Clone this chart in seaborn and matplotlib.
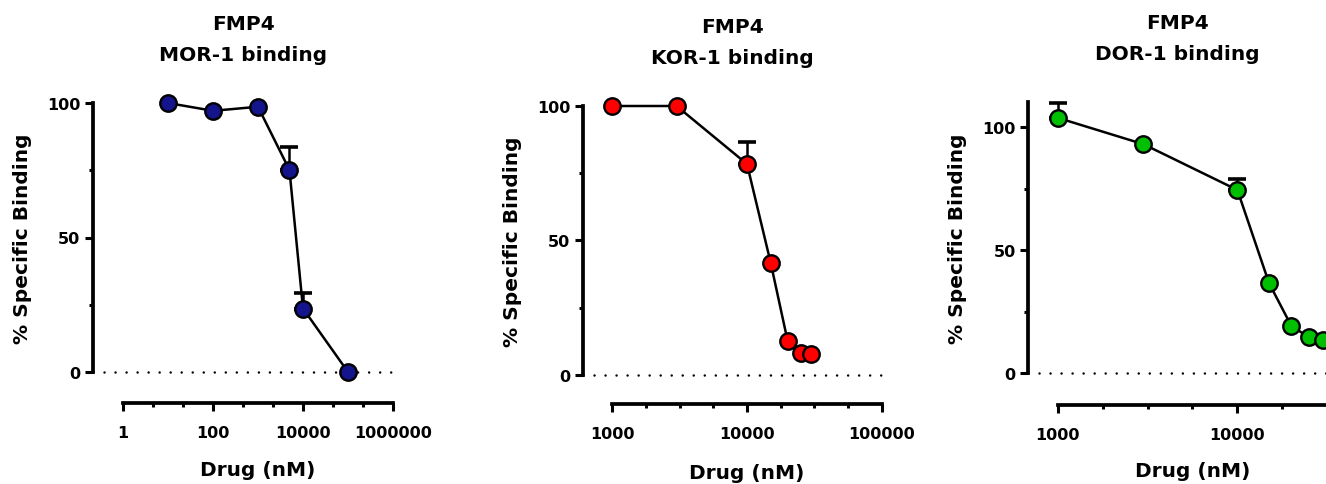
import numpy as np
import pandas as pd
import matplotlib
matplotlib.use("Agg")
import matplotlib.pyplot as plt
import seaborn as sns
from matplotlib.ticker import FixedLocator, FixedFormatter, NullFormatter

# ---------------- data ----------------
mor_conc = [10, 100, 1000, 5000, 10000, 100000]
mor_binding = [100.0, 97.1, 98.6, 75.1, 23.6, 0.0]
mor_err = [0, 0, 0, 8.6, 5.9, 0]

kor_conc = [1000, 3000, 10000, 15000, 20000, 25000, 30000]
kor_binding = [100.0, 100.0, 78.4, 41.6, 12.7, 8.1, 7.7]
kor_err = [0, 0, 8.3, 0, 0, 0, 0]

dor_conc = [1000, 3000, 10000, 15000, 20000, 25000, 30000]
dor_binding = [103.7, 93.0, 74.4, 36.6, 19.1, 14.7, 13.4]
dor_err = [6.0, 0, 4.5, 0, 0, 0, 0]

titles = ["FMP4\nMOR-1 binding", "FMP4\nKOR-1 binding", "FMP4\nDOR-1 binding"]
mor_xticklabels = ["1", "100", "10000", "1000000"]
kor_xticklabels = ["1000", "10000", "100000"]
dor_xticklabels = ["1000", "10000"]
yticklabels = ["0", "50", "100"]
xlabel = "Drug (nM)"
ylabel = "% Specific Binding"

colors = ["#14148C", "#FF0000", "#00BE00"]

# ---------------- style ----------------
sns.set_style("ticks")
plt.rcParams["font.family"] = ["DejaVu Sans"]
plt.rcParams["font.weight"] = "bold"
plt.rcParams["text.color"] = "black"
plt.rcParams["axes.labelcolor"] = "black"
plt.rcParams["axes.edgecolor"] = "black"
plt.rcParams["xtick.color"] = "black"
plt.rcParams["ytick.color"] = "black"
plt.rcParams["xtick.labelcolor"] = "black"
plt.rcParams["ytick.labelcolor"] = "black"

W, H = 1326, 485
fig = plt.figure(figsize=(W / 100, H / 100), dpi=100)

PX2PT = 0.72

# layout per panel: (left_px, xstart_px, px_per_decade, logstart, logend, top_px, bottom_px, ymax, xaxis offset px)
layouts = [
    (93.0, 123.0, 45.0, 0.0, 6.0, 104.0, 373.0, 100, 31.0),
    (582.7, 612.3, 134.7, 3.0, 5.0, 107.0, 375.7, 100, 29.3),
    (1028.3, 1057.7, 179.7, 3.0, 4.5, 103.3, 374.3, 110, 31.7),
]

# (conc, binding, err, tick labels, major tick values, tick intervals per decade)
panels = [
    (mor_conc, mor_binding, mor_err, mor_xticklabels, [1, 100, 1e4, 1e6], 1.5),
    (kor_conc, kor_binding, kor_err, kor_xticklabels, [1e3, 1e4, 1e5], 4),
    (dor_conc, dor_binding, dor_err, dor_xticklabels, [1e3, 1e4], 4),
]

for i, ((conc, binding, err, xtl, majors, nsub), lay, title, col) in enumerate(
        zip(panels, layouts, titles, colors)):
    left, xstart, ppd, l0, l1, top, bottom, ymax, xoff = lay
    right = xstart + (l1 - l0) * ppd
    wpx = right - left
    hpx = bottom - top
    ax = fig.add_axes([left / W, 1 - bottom / H, wpx / W, hpx / H])

    df = pd.DataFrame({"conc": conc, "binding": binding, "err": err})

    ax.set_xscale("log")
    xlo = 10 ** (l0 - (xstart - left) / ppd)
    ax.set_xlim(xlo, 10 ** l1)
    ax.set_ylim(0, ymax)

    # dotted baseline
    ax.axhline(0, color="black", lw=1.8, linestyle=(0, (0.01, 4.4)),
               dash_capstyle="round", zorder=1)

    sns.lineplot(data=df, x="conc", y="binding", color="black", lw=1.8,
                 errorbar=None, ax=ax, zorder=2)
    e = df[df["err"] > 0]
    ax.errorbar(e["conc"], e["binding"], yerr=[np.zeros(len(e)), e["err"]],
                fmt="none", ecolor="black", elinewidth=1.8, capsize=6.2,
                capthick=2.6, zorder=2.5, clip_on=False)
    sns.scatterplot(data=df, x="conc", y="binding", color=col, s=140,
                    edgecolor="black", linewidth=1.7, ax=ax, zorder=3)

    for art in ax.lines + ax.collections:
        art.set_clip_on(False)

    # spines
    sns.despine(ax=ax)
    ax.spines["left"].set_linewidth(2.7)
    ax.spines["bottom"].set_linewidth(2.7)
    ax.spines["left"].set_bounds(0, ymax)
    ax.spines["bottom"].set_bounds(10 ** l0, 10 ** l1)
    ax.spines["bottom"].set_position(("outward", xoff * PX2PT))

    # y ticks
    ax.yaxis.set_major_locator(FixedLocator([0, 50, 100]))
    ax.yaxis.set_major_formatter(FixedFormatter(yticklabels))
    ax.yaxis.set_minor_locator(FixedLocator([25, 75]))
    ax.yaxis.set_minor_formatter(NullFormatter())

    # x ticks
    nmin = int(round((l1 - l0) * nsub))
    minors = [10 ** (l0 + k / nsub) for k in range(nmin + 1)]
    ax.xaxis.set_major_locator(FixedLocator(majors))
    ax.xaxis.set_major_formatter(FixedFormatter(xtl))
    ax.xaxis.set_minor_locator(FixedLocator(minors))
    ax.xaxis.set_minor_formatter(NullFormatter())

    ax.tick_params(axis="both", which="major", length=6, width=2.2,
                   labelsize=11.5, color="black", labelcolor="black", pad=3)
    ax.tick_params(axis="both", which="minor", length=3, width=2.2,
                   color="black")
    ax.tick_params(axis="x", which="major", pad=10)
    for lab in ax.get_xticklabels() + ax.get_yticklabels():
        lab.set_fontweight("bold")

    ax.set_xlabel(xlabel, fontsize=14.5, fontweight="bold", color="black")
    ax.set_ylabel(ylabel, fontsize=14.5, fontweight="bold", color="black")
    xc = ((xstart + right) / 2 - left) / wpx
    ax.xaxis.set_label_coords(xc, -88 / hpx)
    ax.yaxis.set_label_coords(-61 / wpx, 0.5)

    ax.set_title(title, fontsize=14.5, fontweight="bold", y=1 + 64 / hpx,
                 pad=0, va="center", linespacing=1.8, color="black")

fig.savefig("out.png", dpi=100)
